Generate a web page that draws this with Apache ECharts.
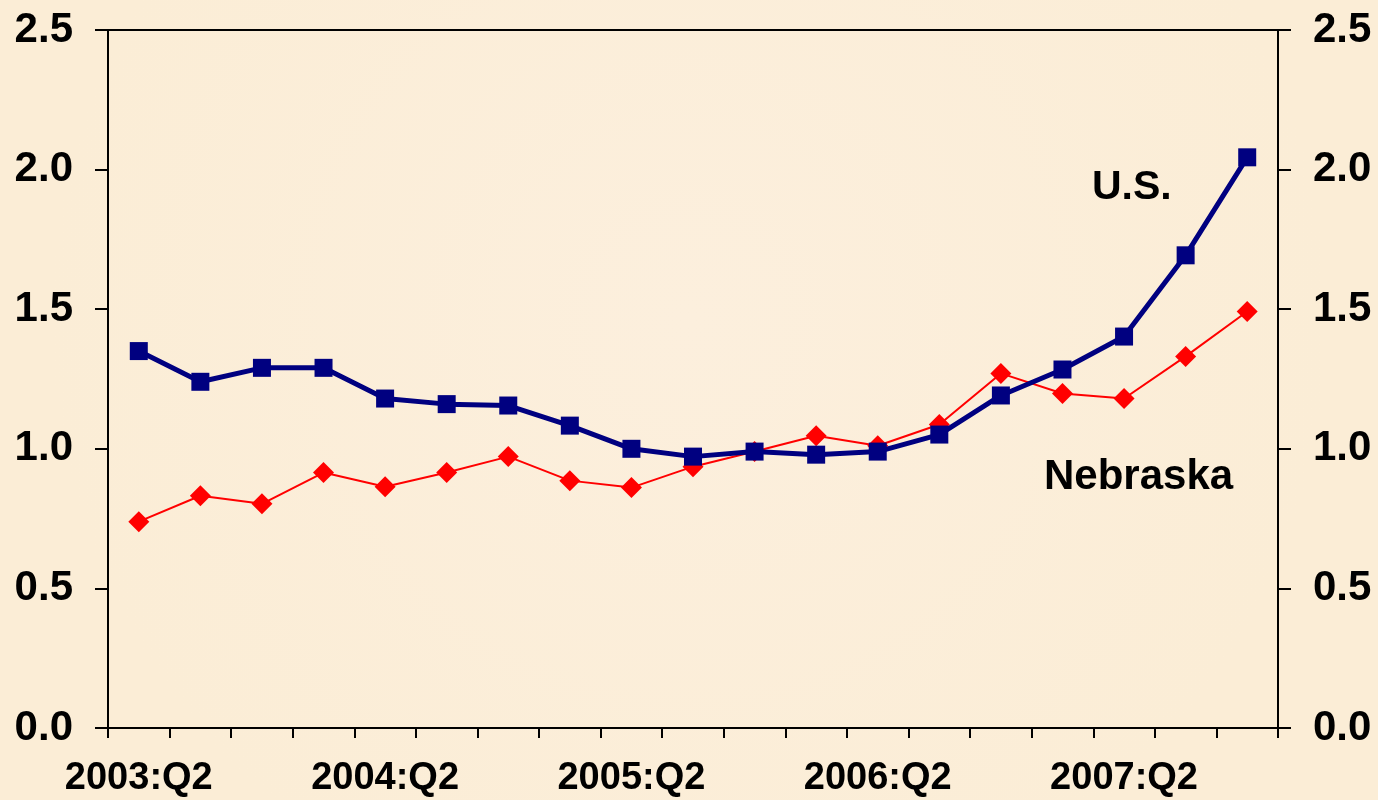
<!DOCTYPE html>
<html>
<head>
<meta charset="utf-8">
<script src="https://cdn.jsdelivr.net/npm/echarts@6/dist/echarts.min.js"></script>
<style>html,body{margin:0;padding:0;background:#FCEEDB;}#c{width:1378px;height:800px;}</style>
</head>
<body>
<div id="c"></div>
<script>
const categories = ['2003:Q2','2003:Q3','2003:Q4','2004:Q1','2004:Q2','2004:Q3','2004:Q4','2005:Q1','2005:Q2','2005:Q3','2005:Q4','2006:Q1','2006:Q2','2006:Q3','2006:Q4','2007:Q1','2007:Q2','2007:Q3','2007:Q4'];
const usValues = [1.35,1.24,1.29,1.29,1.18,1.16,1.155,1.083,1.0,0.972,0.99,0.979,0.99,1.051,1.191,1.284,1.402,1.693,2.044];
const nebraskaValues = [0.739,0.832,0.803,0.915,0.864,0.915,0.972,0.886,0.861,0.936,0.99,1.047,1.011,1.087,1.27,1.198,1.18,1.331,1.492];
const yTicks = [0, 0.5, 1.0, 1.5, 2.0, 2.5];

const chart = echarts.init(document.getElementById('c'));
const font = 'Liberation Sans, Arial, sans-serif';
const axisLine = {lineStyle:{color:'#000', width:2}};
chart.setOption({
  backgroundColor: {
    type:'radial', x:0.5, y:0.4, r:0.8,
    colorStops:[{offset:0,color:'#FCEFDD'},{offset:1,color:'#FBEDD6'}]
  },
  animation:false,
  grid:{left:108, right:100, top:30, bottom:72, show:true, borderColor:'#000', borderWidth:2, backgroundColor:'transparent'},
  xAxis:{
    type:'category', data:categories, boundaryGap:true,
    axisLine:axisLine,
    axisTick:{show:true, interval:0, length:10, lineStyle:{color:'#000', width:2}},
    axisLabel:{interval:3, color:'#000', fontFamily:font, fontWeight:'bold', fontSize:38, margin:32},
    splitLine:{show:false}
  },
  yAxis:[
    {type:'value', min:0, max:2.5, interval:0.5, position:'left',
     axisLine:{show:true, lineStyle:{color:'#000', width:2}},
     axisTick:{show:true, length:13, lineStyle:{color:'#000', width:2}},
     axisLabel:{color:'#000', fontFamily:font, fontWeight:'bold', fontSize:42, margin:35, formatter:v=>v.toFixed(1)},
     splitLine:{show:false}},
    {type:'value', min:0, max:2.5, interval:0.5, position:'right',
     axisLine:{show:true, lineStyle:{color:'#000', width:2}},
     axisTick:{show:true, length:13, lineStyle:{color:'#000', width:2}},
     axisLabel:{color:'#000', fontFamily:font, fontWeight:'bold', fontSize:42, margin:35, formatter:v=>v.toFixed(1)},
     splitLine:{show:false}}
  ],
  series:[
    {name:'Nebraska', type:'line', data:nebraskaValues, yAxisIndex:0,
     symbol:'diamond', symbolSize:21, lineStyle:{color:'#FF0000', width:2},
     itemStyle:{color:'#FF0000'}, z:2},
    {name:'U.S.', type:'line', data:usValues, yAxisIndex:0,
     symbol:'rect', symbolSize:18, lineStyle:{color:'#000080', width:5},
     itemStyle:{color:'#000080'}, z:3}
  ],
  graphic:[
    {type:'text', left:1092, top:167, style:{text:'U.S.', fontFamily:font, fontWeight:'bold', fontSize:41, fill:'#000'}},
    {type:'text', left:1044, top:456, style:{text:'Nebraska', fontFamily:font, fontWeight:'bold', fontSize:42, fill:'#000'}}
  ]
});
</script>
</body>
</html>
